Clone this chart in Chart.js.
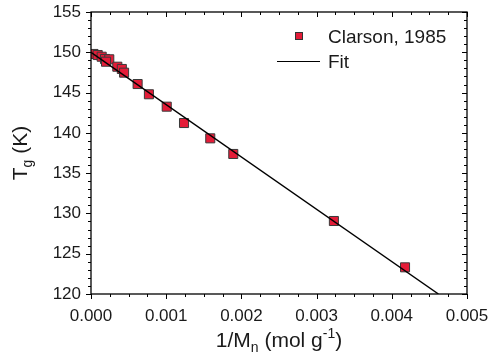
<!DOCTYPE html>
<html>
<head>
<meta charset="utf-8">
<script src="https://cdn.jsdelivr.net/npm/chart.js@4"></script>
<style>
  html, body { margin: 0; padding: 0; background: #fff; }
  #chart { display: block; }
</style>
</head>
<body>
<canvas id="chart" width="489" height="358"></canvas>
<script>
// Clarson, 1985 data: 1/Mn (mol/g) vs Tg (K)
const invMn = [0.000033, 0.000089, 0.000142, 0.000186, 0.000243, 0.0002, 0.00035, 0.00041, 0.00044,
  0.00062, 0.00077, 0.001007, 0.001237, 0.001586, 0.001892, 0.00323, 0.004176];
const tg = [149.79, 149.66, 149.45, 149.17, 149.13, 148.83, 148.21, 147.93, 147.47,
  146.06, 144.79, 143.25, 141.22, 139.32, 137.38, 129.06, 123.31];

// Linear fit end points
const fitX = [0, 0.00462];
const fitY = [150.0, 120.0];

// Axis ticks
const xTicks = [0, 0.001, 0.002, 0.003, 0.004, 0.005];
const yTicks = [120, 125, 130, 135, 140, 145, 150, 155];

const FONT = '"Liberation Sans", Arial, sans-serif';
const RED = "rgb(228, 28, 56)";

// Draw text pieces with sub/superscripts, centred on x
function drawRich(ctx, parts, x, y) {
  let total = 0;
  parts.forEach((p) => {
    ctx.font = p.size + "px " + FONT;
    p.w = ctx.measureText(p.t).width;
    total += p.w;
  });
  let cx = x - total / 2;
  ctx.textAlign = "left";
  ctx.textBaseline = "alphabetic";
  parts.forEach((p) => {
    ctx.font = p.size + "px " + FONT;
    ctx.fillText(p.t, cx, y + (p.dy || 0));
    cx += p.w;
  });
}

// Frame, minor/major ticks, titles and legend
const decorPlugin = {
  id: "decor",
  afterDraw(chart) {
    const ctx = chart.ctx;
    const a = chart.chartArea;
    const xs = chart.scales.x;
    const ys = chart.scales.y;
    ctx.save();
    ctx.strokeStyle = "#000";
    ctx.lineWidth = 1.3;
    ctx.strokeRect(a.left, a.top, a.right - a.left, a.bottom - a.top);

    ctx.lineWidth = 1;
    ctx.beginPath();
    for (let i = 0; i <= 20; i++) {
      const px = Math.round(xs.getPixelForValue(i * 0.00025)) + 0.5;
      const len = i % 4 === 0 ? 5 : 3;
      ctx.moveTo(px, a.bottom);
      ctx.lineTo(px, a.bottom + len);
      ctx.moveTo(px, a.top);
      ctx.lineTo(px, a.top + len);
    }
    for (let v = 120; v <= 155; v++) {
      const py = Math.round(ys.getPixelForValue(v)) + 0.5;
      const len = v % 5 === 0 ? 5 : 3;
      ctx.moveTo(a.left, py);
      ctx.lineTo(a.left - len, py);
      ctx.moveTo(a.right, py);
      ctx.lineTo(a.right - len, py);
    }
    ctx.stroke();

    // Axis titles
    ctx.fillStyle = "#1a1a1a";
    drawRich(ctx, [
      { t: "1/M", size: 21 },
      { t: "n", size: 14, dy: 5 },
      { t: " (mol g", size: 21 },
      { t: "-1", size: 14, dy: -9 },
      { t: ")", size: 21 },
    ], (a.left + a.right) / 2, 347);

    ctx.save();
    ctx.translate(27, (a.top + a.bottom) / 2);
    ctx.rotate(-Math.PI / 2);
    drawRich(ctx, [
      { t: "T", size: 21 },
      { t: "g", size: 14, dy: 5 },
      { t: " (K)", size: 21 },
    ], 0, 0);
    ctx.restore();

    // Legend
    ctx.fillStyle = RED;
    ctx.fillRect(295, 32, 8, 8);
    ctx.strokeStyle = "#333";
    ctx.lineWidth = 1;
    ctx.strokeRect(295.5, 32.5, 7, 7);
    ctx.beginPath();
    ctx.strokeStyle = "#000";
    ctx.lineWidth = 1.2;
    ctx.moveTo(277, 61.5);
    ctx.lineTo(320, 61.5);
    ctx.stroke();
    ctx.fillStyle = "#1a1a1a";
    ctx.font = "19px " + FONT;
    ctx.textAlign = "left";
    ctx.textBaseline = "alphabetic";
    ctx.fillText("Clarson, 1985", 328, 43);
    ctx.fillText("Fit", 328, 68);
    ctx.restore();
  },
};

const ctx = document.getElementById("chart").getContext("2d");
new Chart(ctx, {
  type: "scatter",
  data: {
    datasets: [
      {
        label: "Fit",
        type: "line",
        data: fitX.map((x, i) => ({ x: x, y: fitY[i] })),
        borderColor: "#000",
        borderWidth: 1.4,
        pointRadius: 0,
        fill: false,
        order: 0,
      },
      {
        label: "Clarson, 1985",
        data: invMn.map((x, i) => ({ x: x, y: tg[i] })),
        pointStyle: "rect",
        pointRadius: 6.4,
        backgroundColor: RED,
        borderColor: "#3a3a3a",
        borderWidth: 1,
        order: 1,
      },
    ],
  },
  options: {
    responsive: false,
    animation: false,
    layout: { padding: { left: 0, top: 12, right: 22, bottom: 0 } },
    plugins: {
      legend: { display: false },
      tooltip: { enabled: false },
    },
    scales: {
      x: {
        type: "linear",
        min: 0,
        max: 0.005,
        afterFit: (s) => {
          s.height = 64;
          s.paddingLeft = 0;
          s.paddingRight = 0;
        },
        afterBuildTicks: (s) => { s.ticks = xTicks.map((v) => ({ value: v })); },
        grid: { display: false, drawTicks: false },
        border: { display: false },
        ticks: {
          padding: 12,
          color: "#1a1a1a",
          font: { family: FONT, size: 17 },
          maxRotation: 0,
          callback: (v) => v.toFixed(3),
        },
      },
      y: {
        type: "linear",
        min: 120,
        max: 155,
        afterFit: (s) => {
          s.width = 91;
          s.paddingTop = 0;
          s.paddingBottom = 0;
        },
        afterBuildTicks: (s) => { s.ticks = yTicks.map((v) => ({ value: v })); },
        grid: { display: false, drawTicks: false },
        border: { display: false },
        ticks: {
          padding: 10,
          color: "#1a1a1a",
          font: { family: FONT, size: 17 },
          callback: (v) => String(v),
        },
      },
    },
  },
  plugins: [decorPlugin],
});
</script>
</body>
</html>
